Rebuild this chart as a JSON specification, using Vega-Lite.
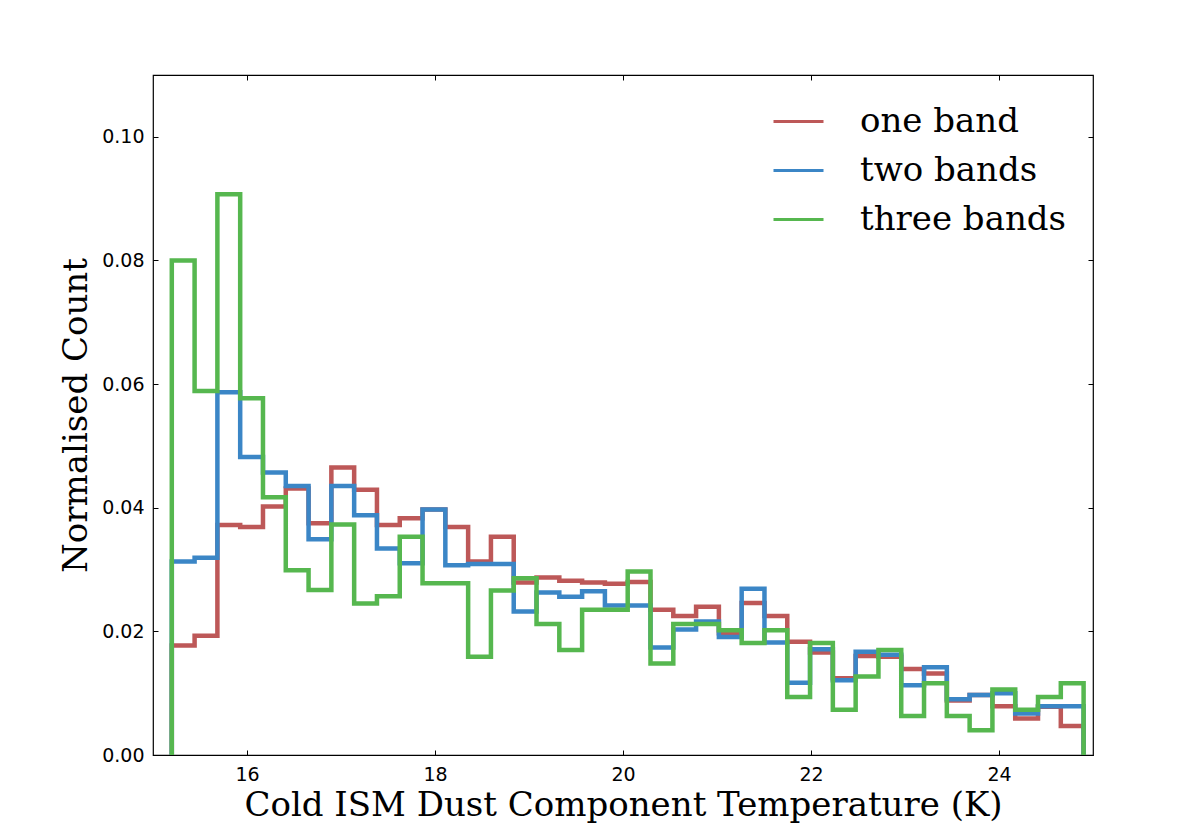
{
  "$schema": "https://vega.github.io/schema/vega-lite/v6.json",
  "width": 940,
  "height": 680,
  "autosize": {"type": "none"},
  "padding": {"left": 153, "top": 75, "right": 103, "bottom": 75},
  "background": "white",
  "config": {
    "view": {"stroke": "#000000", "strokeWidth": 1.2},
    "axis": {
      "grid": false,
      "domain": false,
      "tickColor": "#000000",
      "tickSize": -5,
      "tickWidth": 1,
      "labelFont": "DejaVu Sans",
      "labelFontSize": 19,
      "labelColor": "#000000",
      "titleFont": "DejaVu Serif",
      "titleFontSize": 34,
      "titleFontWeight": "normal",
      "titleColor": "#000000"
    }
  },
  "datasets": {
    "hist": [
      {"s": "one band", "i": 0, "x": 15.2, "y": 0},
      {"s": "one band", "i": 1, "x": 15.2, "y": 0.0177},
      {"s": "one band", "i": 2, "x": 15.4425, "y": 0.0193},
      {"s": "one band", "i": 3, "x": 15.685, "y": 0.0372},
      {"s": "one band", "i": 4, "x": 15.9275, "y": 0.0369},
      {"s": "one band", "i": 5, "x": 16.17, "y": 0.0402},
      {"s": "one band", "i": 6, "x": 16.4125, "y": 0.0431},
      {"s": "one band", "i": 7, "x": 16.655, "y": 0.0375},
      {"s": "one band", "i": 8, "x": 16.8975, "y": 0.0465},
      {"s": "one band", "i": 9, "x": 17.14, "y": 0.0429},
      {"s": "one band", "i": 10, "x": 17.3825, "y": 0.0372},
      {"s": "one band", "i": 11, "x": 17.625, "y": 0.0383},
      {"s": "one band", "i": 12, "x": 17.8675, "y": 0.0397},
      {"s": "one band", "i": 13, "x": 18.11, "y": 0.0369},
      {"s": "one band", "i": 14, "x": 18.3525, "y": 0.0313},
      {"s": "one band", "i": 15, "x": 18.595, "y": 0.0353},
      {"s": "one band", "i": 16, "x": 18.8375, "y": 0.0279},
      {"s": "one band", "i": 17, "x": 19.08, "y": 0.0287},
      {"s": "one band", "i": 18, "x": 19.3225, "y": 0.0282},
      {"s": "one band", "i": 19, "x": 19.565, "y": 0.0279},
      {"s": "one band", "i": 20, "x": 19.8075, "y": 0.0277},
      {"s": "one band", "i": 21, "x": 20.05, "y": 0.0280},
      {"s": "one band", "i": 22, "x": 20.2925, "y": 0.0235},
      {"s": "one band", "i": 23, "x": 20.535, "y": 0.0225},
      {"s": "one band", "i": 24, "x": 20.7775, "y": 0.0240},
      {"s": "one band", "i": 25, "x": 21.02, "y": 0.0197},
      {"s": "one band", "i": 26, "x": 21.2625, "y": 0.0246},
      {"s": "one band", "i": 27, "x": 21.505, "y": 0.0225},
      {"s": "one band", "i": 28, "x": 21.7475, "y": 0.0183},
      {"s": "one band", "i": 29, "x": 21.99, "y": 0.0166},
      {"s": "one band", "i": 30, "x": 22.2325, "y": 0.0124},
      {"s": "one band", "i": 31, "x": 22.475, "y": 0.0160},
      {"s": "one band", "i": 32, "x": 22.7175, "y": 0.0159},
      {"s": "one band", "i": 33, "x": 22.96, "y": 0.0139},
      {"s": "one band", "i": 34, "x": 23.2025, "y": 0.0132},
      {"s": "one band", "i": 35, "x": 23.445, "y": 0.0088},
      {"s": "one band", "i": 36, "x": 23.6875, "y": 0.0097},
      {"s": "one band", "i": 37, "x": 23.93, "y": 0.0079},
      {"s": "one band", "i": 38, "x": 24.1725, "y": 0.0059},
      {"s": "one band", "i": 39, "x": 24.415, "y": 0.0078},
      {"s": "one band", "i": 40, "x": 24.6575, "y": 0.0047},
      {"s": "one band", "i": 41, "x": 24.9, "y": 0.0047},
      {"s": "one band", "i": 42, "x": 24.9, "y": 0},

      {"s": "two bands", "i": 0, "x": 15.2, "y": 0},
      {"s": "two bands", "i": 1, "x": 15.2, "y": 0.0313},
      {"s": "two bands", "i": 2, "x": 15.4425, "y": 0.0319},
      {"s": "two bands", "i": 3, "x": 15.685, "y": 0.0587},
      {"s": "two bands", "i": 4, "x": 15.9275, "y": 0.0482},
      {"s": "two bands", "i": 5, "x": 16.17, "y": 0.0457},
      {"s": "two bands", "i": 6, "x": 16.4125, "y": 0.0435},
      {"s": "two bands", "i": 7, "x": 16.655, "y": 0.0349},
      {"s": "two bands", "i": 8, "x": 16.8975, "y": 0.0435},
      {"s": "two bands", "i": 9, "x": 17.14, "y": 0.0388},
      {"s": "two bands", "i": 10, "x": 17.3825, "y": 0.0334},
      {"s": "two bands", "i": 11, "x": 17.625, "y": 0.0310},
      {"s": "two bands", "i": 12, "x": 17.8675, "y": 0.0397},
      {"s": "two bands", "i": 13, "x": 18.11, "y": 0.0307},
      {"s": "two bands", "i": 14, "x": 18.3525, "y": 0.0309},
      {"s": "two bands", "i": 15, "x": 18.595, "y": 0.0309},
      {"s": "two bands", "i": 16, "x": 18.8375, "y": 0.0232},
      {"s": "two bands", "i": 17, "x": 19.08, "y": 0.0263},
      {"s": "two bands", "i": 18, "x": 19.3225, "y": 0.0256},
      {"s": "two bands", "i": 19, "x": 19.565, "y": 0.0265},
      {"s": "two bands", "i": 20, "x": 19.8075, "y": 0.0242},
      {"s": "two bands", "i": 21, "x": 20.05, "y": 0.0242},
      {"s": "two bands", "i": 22, "x": 20.2925, "y": 0.0174},
      {"s": "two bands", "i": 23, "x": 20.535, "y": 0.0203},
      {"s": "two bands", "i": 24, "x": 20.7775, "y": 0.0216},
      {"s": "two bands", "i": 25, "x": 21.02, "y": 0.0191},
      {"s": "two bands", "i": 26, "x": 21.2625, "y": 0.0269},
      {"s": "two bands", "i": 27, "x": 21.505, "y": 0.0182},
      {"s": "two bands", "i": 28, "x": 21.7475, "y": 0.0117},
      {"s": "two bands", "i": 29, "x": 21.99, "y": 0.0171},
      {"s": "two bands", "i": 30, "x": 22.2325, "y": 0.0121},
      {"s": "two bands", "i": 31, "x": 22.475, "y": 0.0167},
      {"s": "two bands", "i": 32, "x": 22.7175, "y": 0.0162},
      {"s": "two bands", "i": 33, "x": 22.96, "y": 0.0113},
      {"s": "two bands", "i": 34, "x": 23.2025, "y": 0.0142},
      {"s": "two bands", "i": 35, "x": 23.445, "y": 0.0090},
      {"s": "two bands", "i": 36, "x": 23.6875, "y": 0.0097},
      {"s": "two bands", "i": 37, "x": 23.93, "y": 0.0100},
      {"s": "two bands", "i": 38, "x": 24.1725, "y": 0.0067},
      {"s": "two bands", "i": 39, "x": 24.415, "y": 0.0079},
      {"s": "two bands", "i": 40, "x": 24.6575, "y": 0.0079},
      {"s": "two bands", "i": 41, "x": 24.9, "y": 0.0079},
      {"s": "two bands", "i": 42, "x": 24.9, "y": 0},

      {"s": "three bands", "i": 0, "x": 15.2, "y": 0},
      {"s": "three bands", "i": 1, "x": 15.2, "y": 0.0800},
      {"s": "three bands", "i": 2, "x": 15.4425, "y": 0.0589},
      {"s": "three bands", "i": 3, "x": 15.685, "y": 0.0907},
      {"s": "three bands", "i": 4, "x": 15.9275, "y": 0.0577},
      {"s": "three bands", "i": 5, "x": 16.17, "y": 0.0417},
      {"s": "three bands", "i": 6, "x": 16.4125, "y": 0.0299},
      {"s": "three bands", "i": 7, "x": 16.655, "y": 0.0267},
      {"s": "three bands", "i": 8, "x": 16.8975, "y": 0.0373},
      {"s": "three bands", "i": 9, "x": 17.14, "y": 0.0245},
      {"s": "three bands", "i": 10, "x": 17.3825, "y": 0.0257},
      {"s": "three bands", "i": 11, "x": 17.625, "y": 0.0353},
      {"s": "three bands", "i": 12, "x": 17.8675, "y": 0.0278},
      {"s": "three bands", "i": 13, "x": 18.11, "y": 0.0278},
      {"s": "three bands", "i": 14, "x": 18.3525, "y": 0.0159},
      {"s": "three bands", "i": 15, "x": 18.595, "y": 0.0266},
      {"s": "three bands", "i": 16, "x": 18.8375, "y": 0.0286},
      {"s": "three bands", "i": 17, "x": 19.08, "y": 0.0212},
      {"s": "three bands", "i": 18, "x": 19.3225, "y": 0.0170},
      {"s": "three bands", "i": 19, "x": 19.565, "y": 0.0235},
      {"s": "three bands", "i": 20, "x": 19.8075, "y": 0.0235},
      {"s": "three bands", "i": 21, "x": 20.05, "y": 0.0297},
      {"s": "three bands", "i": 22, "x": 20.2925, "y": 0.0148},
      {"s": "three bands", "i": 23, "x": 20.535, "y": 0.0212},
      {"s": "three bands", "i": 24, "x": 20.7775, "y": 0.0212},
      {"s": "three bands", "i": 25, "x": 21.02, "y": 0.0202},
      {"s": "three bands", "i": 26, "x": 21.2625, "y": 0.0181},
      {"s": "three bands", "i": 27, "x": 21.505, "y": 0.0202},
      {"s": "three bands", "i": 28, "x": 21.7475, "y": 0.0094},
      {"s": "three bands", "i": 29, "x": 21.99, "y": 0.0181},
      {"s": "three bands", "i": 30, "x": 22.2325, "y": 0.0073},
      {"s": "three bands", "i": 31, "x": 22.475, "y": 0.0127},
      {"s": "three bands", "i": 32, "x": 22.7175, "y": 0.0170},
      {"s": "three bands", "i": 33, "x": 22.96, "y": 0.0063},
      {"s": "three bands", "i": 34, "x": 23.2025, "y": 0.0116},
      {"s": "three bands", "i": 35, "x": 23.445, "y": 0.0063},
      {"s": "three bands", "i": 36, "x": 23.6875, "y": 0.0040},
      {"s": "three bands", "i": 37, "x": 23.93, "y": 0.0106},
      {"s": "three bands", "i": 38, "x": 24.1725, "y": 0.0073},
      {"s": "three bands", "i": 39, "x": 24.415, "y": 0.0094},
      {"s": "three bands", "i": 40, "x": 24.6575, "y": 0.0116},
      {"s": "three bands", "i": 41, "x": 24.9, "y": 0.0116},
      {"s": "three bands", "i": 42, "x": 24.9, "y": 0}
    ]
  },
  "data": {"name": "hist"},
  "resolve": {"axis": {"x": "independent", "y": "independent"}},
  "layer": [
    {
      "encoding": {
        "x": {"field": "x", "type": "quantitative", "scale": {"domain": [15, 25], "nice": false, "zero": false},
          "axis": {"values": [16, 18, 20, 22, 24], "format": "d", "labelPadding": 15, "title": "Cold ISM Dust Component Temperature (K)", "titlePadding": 4}},
        "y": {"field": "y", "type": "quantitative", "scale": {"domain": [0, 0.11], "nice": false},
          "axis": {"values": [0, 0.02, 0.04, 0.06, 0.08, 0.1], "format": ".2f", "labelPadding": 14, "title": "Normalised Count", "titlePadding": 8}},
        "order": {"field": "i", "type": "quantitative"},
        "color": {"field": "s", "type": "nominal",
          "scale": {"domain": ["one band", "two bands", "three bands"], "range": ["#bd5858", "#3b86c6", "#56b74f"]},
          "legend": {"title": null, "orient": "none", "legendX": 619, "legendY": 20, "symbolType": "stroke", "symbolSize": 2500, "symbolStrokeWidth": 3, "labelFont": "DejaVu Serif", "labelFontSize": 34, "labelColor": "#000000", "labelOffset": 35, "labelLimit": 0, "rowPadding": 5, "padding": 0}}
      },
      "layer": [
        {"transform": [{"filter": "datum.s === 'one band'"}],
         "mark": {"type": "line", "interpolate": "step-after", "strokeWidth": 4.5, "strokeJoin": "miter", "strokeCap": "butt", "clip": true}},
        {"transform": [{"filter": "datum.s === 'two bands'"}],
         "mark": {"type": "line", "interpolate": "step-after", "strokeWidth": 4.5, "strokeJoin": "miter", "strokeCap": "butt", "clip": true}},
        {"transform": [{"filter": "datum.s === 'three bands'"}],
         "mark": {"type": "line", "interpolate": "step-after", "strokeWidth": 4.5, "strokeJoin": "miter", "strokeCap": "butt", "clip": true}}
      ]
    },
    {
      "transform": [{"filter": "datum.s === 'one band'"}],
      "mark": {"type": "point", "opacity": 0},
      "encoding": {
        "x": {"field": "x", "type": "quantitative", "axis": {"orient": "top", "values": [16, 18, 20, 22, 24], "labels": false, "title": null}},
        "y": {"field": "y", "type": "quantitative", "axis": {"orient": "right", "values": [0, 0.02, 0.04, 0.06, 0.08, 0.1], "labels": false, "title": null}}
      }
    }
  ]
}
